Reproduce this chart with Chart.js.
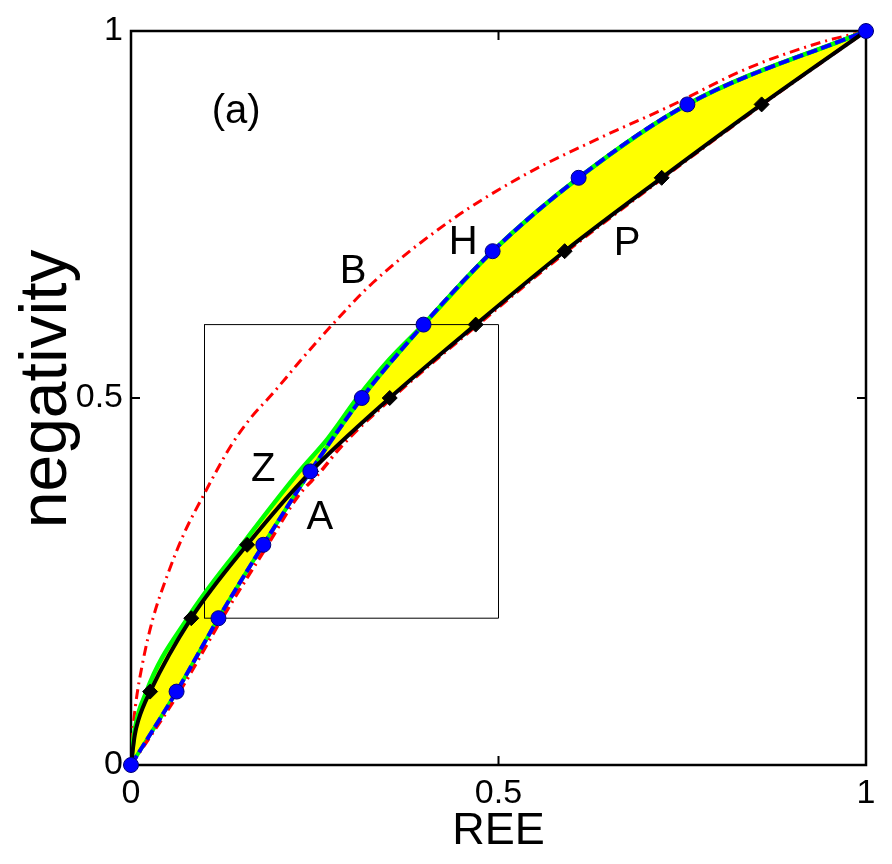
<!DOCTYPE html>
<html>
<head>
<meta charset="utf-8">
<script src="https://cdn.jsdelivr.net/npm/chart.js@4.4.1/dist/chart.umd.min.js"></script>
<style>
  html, body { margin: 0; padding: 0; background: #fff; }
  #wrap { width: 892px; height: 864px; }
</style>
</head>
<body>
<div id="wrap"><canvas id="rocChart"></canvas></div>
<script>
// values: REE on x, negativity on y
var markLevels = [0, 0.1, 0.2, 0.3, 0.4, 0.5, 0.6, 0.7, 0.8, 0.9, 1];
var pMarkREE = [0, 0.026, 0.082, 0.158, 0.245, 0.352, 0.469, 0.59, 0.722, 0.858, 1];
var hMarkREE = [0, 0.062, 0.119, 0.18, 0.244, 0.314, 0.398, 0.492, 0.609, 0.757, 1];

var pREE = [0, 0.005, 0.01, 0.026, 0.082, 0.158, 0.245, 0.352, 0.469, 0.59, 0.722, 0.858, 1];
var pNeg = [0, 0.04, 0.061, 0.1, 0.2, 0.3, 0.4, 0.5, 0.6, 0.7, 0.8, 0.9, 1];

var zREE = [0, 0.004, 0.021, 0.077, 0.151, 0.229, 0.268, 0.308, 0.352, 0.398, 0.492, 0.609, 0.757, 1];
var zNeg = [0, 0.04, 0.1, 0.2, 0.3, 0.4, 0.445, 0.5, 0.553, 0.6, 0.7, 0.8, 0.9, 1];

var aREE = [0, 0.066, 0.124, 0.186, 0.227, 0.258, 0.286, 0.355, 0.472, 0.593, 0.724, 0.859, 1];
var aNeg = [0, 0.1, 0.2, 0.3, 0.366, 0.4, 0.434, 0.5, 0.6, 0.7, 0.8, 0.9, 1];

var bREE = [0, 0.002, 0.006, 0.016, 0.03, 0.05, 0.072, 0.1, 0.136, 0.163, 0.19, 0.213, 0.228, 0.274, 0.329, 0.431, 0.532, 0.633, 0.734, 0.836, 0.937, 1];
var bNeg = [0, 0.04, 0.08, 0.14, 0.2, 0.26, 0.315, 0.37, 0.435, 0.473, 0.503, 0.53, 0.548, 0.6, 0.657, 0.739, 0.802, 0.852, 0.898, 0.948, 0.984, 1];

var boxREE = [0.1, 0.5, 0.5, 0.1, 0.1];
var boxNeg = [0.2, 0.2, 0.6, 0.6, 0.2];

var axisTicks = [0, 0.5, 1];

var curveNames = ["(a)", "B", "H", "P", "Z", "A"];
var nameREE = [0.143, 0.302, 0.452, 0.675, 0.18, 0.257];
var nameNeg = [0.89, 0.672, 0.711, 0.71, 0.402, 0.337];

function pts(xs, ys) {
  return xs.map(function (x, i) { return { x: x, y: ys[i] }; });
}

Chart.defaults.font.family = "'Liberation Sans', Arial, Helvetica, sans-serif";
Chart.defaults.color = "#000";

var frameAndLabels = {
  id: "frameAndLabels",
  beforeDatasetsDraw: function (chart) {
    var c = chart.ctx, a = chart.chartArea;
    var xs = chart.scales.x, ys = chart.scales.y;
    c.save();
    c.strokeStyle = "#000";
    c.lineWidth = 2.5;
    c.strokeRect(a.left, a.top, a.right - a.left, a.bottom - a.top);
    c.lineWidth = 2;
    axisTicks.forEach(function (v) {
      var px = xs.getPixelForValue(v), py = ys.getPixelForValue(v);
      c.beginPath();
      c.moveTo(px, a.bottom); c.lineTo(px, a.bottom - 9);
      c.moveTo(px, a.top); c.lineTo(px, a.top + 9);
      c.moveTo(a.left, py); c.lineTo(a.left + 9, py);
      c.moveTo(a.right, py); c.lineTo(a.right - 9, py);
      c.stroke();
    });
    c.restore();
  },
  afterDatasetsDraw: function (chart) {
    var c = chart.ctx;
    var xs = chart.scales.x, ys = chart.scales.y;
    c.save();
    c.fillStyle = "#000";
    c.font = "40px 'Liberation Sans', Arial, sans-serif";
    c.textAlign = "center";
    c.textBaseline = "middle";
    curveNames.forEach(function (t, i) {
      c.fillText(t, xs.getPixelForValue(nameREE[i]), ys.getPixelForValue(nameNeg[i]));
    });
    c.restore();
  }
};

var ctx = document.getElementById("rocChart").getContext("2d");
var rocChart = new Chart(ctx, {
  type: "line",
  data: {
    datasets: [
      {
        // blue circles (H)
        data: pts(hMarkREE, markLevels),
        showLine: false,
        pointStyle: "circle",
        pointRadius: 7.5,
        pointBackgroundColor: "#0000ff",
        pointBorderColor: "#00007a",
        pointBorderWidth: 1,
        clip: false
      },
      {
        // black diamonds (P)
        data: pts(pMarkREE, markLevels),
        showLine: false,
        pointStyle: "rectRot",
        pointRadius: 7.5,
        pointBackgroundColor: "#000",
        pointBorderColor: "#000",
        pointBorderWidth: 1,
        clip: false
      },
      {
        data: pts(pREE, pNeg),
        borderColor: "#000",
        borderWidth: 4,
        pointRadius: 0,
        cubicInterpolationMode: "monotone"
      },
      {
        data: pts(hMarkREE, markLevels),
        borderColor: "#0000ff",
        borderWidth: 4,
        borderDash: [11, 4],
        pointRadius: 0,
        cubicInterpolationMode: "monotone"
      },
      {
        data: pts(aREE, aNeg),
        borderColor: "#ff0000",
        borderWidth: 3.5,
        borderDash: [10, 5, 2, 5],
        pointRadius: 0,
        cubicInterpolationMode: "monotone"
      },
      {
        data: pts(hMarkREE, markLevels),
        borderColor: "#00ff00",
        borderWidth: 4,
        pointRadius: 0,
        cubicInterpolationMode: "monotone"
      },
      {
        data: pts(zREE, zNeg),
        borderColor: "#00ff00",
        borderWidth: 4.5,
        pointRadius: 0,
        cubicInterpolationMode: "monotone"
      },
      {
        data: pts(bREE, bNeg),
        borderColor: "#ff0000",
        borderWidth: 3,
        borderDash: [10, 5, 2, 5],
        pointRadius: 0,
        cubicInterpolationMode: "monotone"
      },
      {
        data: pts(boxREE, boxNeg),
        borderColor: "#000",
        borderWidth: 1,
        pointRadius: 0,
        tension: 0
      },
      {
        // yellow: Z boundary down to H
        data: pts(zREE, zNeg),
        borderWidth: 0,
        pointRadius: 0,
        cubicInterpolationMode: "monotone",
        backgroundColor: "#ffff00",
        fill: { target: 10 }
      },
      {
        data: pts(hMarkREE, markLevels),
        borderWidth: 0,
        pointRadius: 0,
        cubicInterpolationMode: "monotone",
        fill: false
      },
      {
        // yellow: P to H
        data: pts(pREE, pNeg),
        borderWidth: 0,
        pointRadius: 0,
        cubicInterpolationMode: "monotone",
        backgroundColor: "#ffff00",
        fill: { target: 10 }
      }
    ]
  },
  options: {
    responsive: true,
    maintainAspectRatio: false,
    animation: false,
    layout: { padding: { top: 31, right: 26, left: 0, bottom: 0 } },
    scales: {
      x: {
        type: "linear",
        min: 0,
        max: 1,
        afterFit: function (s) { s.height = 99; },
        afterBuildTicks: function (s) { s.ticks = axisTicks.map(function (v) { return { value: v }; }); },
        ticks: { font: { size: 34 }, padding: 8, callback: function (v) { return String(v); } },
        grid: { display: false, drawTicks: false },
        border: { display: false },
        title: { display: true, text: "REE", font: { size: 45, lineHeight: 1 }, padding: { top: 0, bottom: 10 } }
      },
      y: {
        type: "linear",
        min: 0,
        max: 1,
        afterFit: function (s) { s.width = 131; },
        afterBuildTicks: function (s) { s.ticks = axisTicks.map(function (v) { return { value: v }; }); },
        ticks: { font: { size: 34 }, padding: 8, callback: function (v) { return String(v); } },
        grid: { display: false, drawTicks: false },
        border: { display: false },
        title: { display: true, text: " negativity", font: { size: 66, lineHeight: 1 }, padding: { top: 15, bottom: 0 } }
      }
    },
    plugins: {
      legend: { display: false },
      tooltip: { enabled: false },
      filler: { drawTime: "beforeDatasetsDraw" }
    }
  },
  plugins: [frameAndLabels]
});
</script>
</body>
</html>
